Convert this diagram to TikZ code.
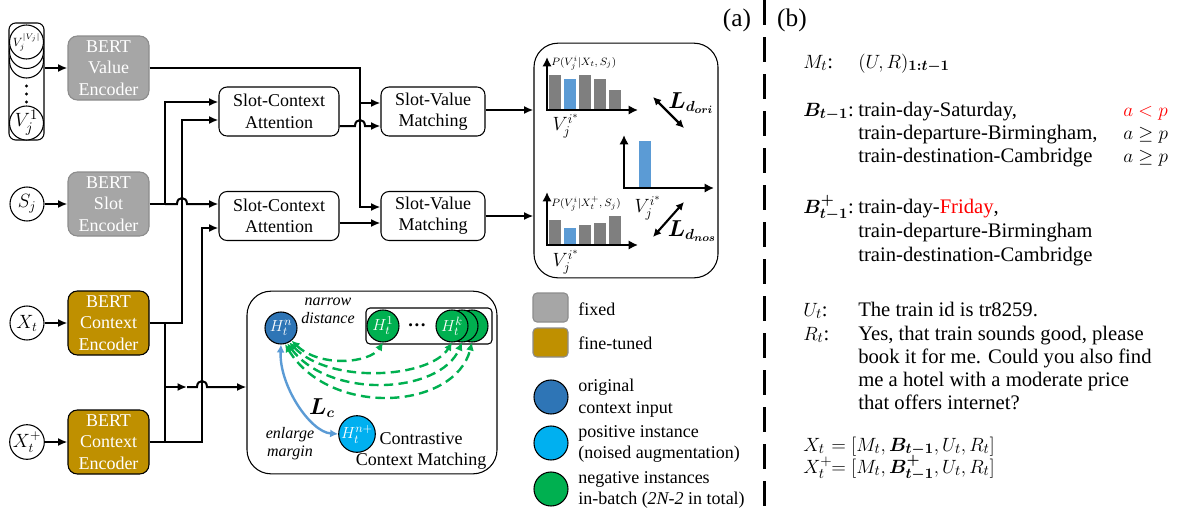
\documentclass[tikz,border=0pt]{standalone}
\usepackage{amsmath,bm}
\usepackage{fontspec}
\setmainfont{Liberation Serif}
\usetikzlibrary{arrows.meta,calc}
\definecolor{fixgray}{HTML}{A6A6A6}
\definecolor{fixborder}{HTML}{8C8C8C}
\definecolor{gold}{HTML}{BF9000}
\definecolor{dblue}{HTML}{2E75B6}
\definecolor{lblue}{HTML}{00B0F0}
\definecolor{ngreen}{HTML}{00B050}
\definecolor{bargray}{HTML}{7F7F7F}
\definecolor{barblue}{HTML}{5B9BD5}
\definecolor{myred}{HTML}{FF0000}
\newcommand{\Bplus}{\bm{B}^{\bm{+}}_{\bm{t-1}}}
\begin{document}
\begin{tikzpicture}[x=0.75pt,y=-0.75pt,
 wire/.style={line width=1.5pt},
 arr/.style={line width=1.5pt,-{Latex[length=7pt,width=6pt]}},
 fs/.style={font=\fontsize{13.5}{16}\selectfont},
 encbox/.style={rounded corners=7pt, minimum width=60.75pt, minimum height=48pt, align=center, text=white, fs, line width=0.8pt, inner sep=1pt},
 fixedbox/.style={encbox, fill=fixgray, draw=fixborder},
 tunedbox/.style={encbox, fill=gold, draw=black},
 modbox/.style={draw, rounded corners=6pt, line width=0.8pt, align=center, fs, minimum height=36.75pt},
 incirc/.style={circle, draw, fill=white, line width=0.8pt, minimum size=25.5pt, inner sep=0pt, font=\fontsize{14}{15}\selectfont},
 hcirc/.style={circle, draw, line width=0.8pt, minimum size=24pt, inner sep=0pt, text=white, font=\fontsize{13}{14}\selectfont},
 axis/.style={line width=2.2pt, -{Latex[length=7pt,width=7pt]}},
 dbl/.style={line width=1.6pt, {Latex[length=6pt,width=6pt]}-{Latex[length=6pt,width=6pt]}},
 gdash/.style={ngreen, line width=1.8pt, dash pattern=on 7pt off 4pt, {Latex[length=6pt,width=6pt]}-{Latex[length=6pt,width=6pt]}},
 legtext/.style={fs, anchor=west, align=left, inner sep=0pt},
 rs/.style={font=\fontsize{15.5}{18}\selectfont, anchor=base west, inner sep=0pt},
 smalllab/.style={font=\fontsize{8.5}{9}\selectfont, anchor=west, inner sep=0pt},
 vlab/.style={font=\fontsize{14}{15}\selectfont, inner sep=0pt},
 itl/.style={font=\fontsize{12}{13.5}\selectfont\itshape, align=center, inner sep=0pt}
]
\useasboundingbox (0,0) rectangle (1178,515);

% ---------- value stack ----------
\node[draw, rounded corners=5pt, line width=0.8pt, minimum width=26.25pt, minimum height=87.75pt] (vstack) at (26.5,81.5) {};
\node[incirc] (vc3) at (26.5,61) {};
\node[incirc] (vc2) at (26.5,51.5) {};
\node[incirc, font=\fontsize{9}{10}\selectfont] (vtop) at (26.5,42) {$V_j^{|V_j|}$};
\fill (26.5,86) circle (1.3pt);
\fill (26.5,94) circle (1.3pt);
\fill (26.5,102) circle (1.3pt);
\node[incirc, font=\fontsize{15}{16}\selectfont] (vone) at (26.5,123) {$V_j^1$};

% ---------- encoders ----------
\node[fixedbox] (val) at (108.5,68) {BERT\\Value\\Encoder};
\node[fixedbox] (slot) at (108.5,204) {BERT\\Slot\\Encoder};
\node[tunedbox] (ctx1) at (108.5,323) {BERT\\Context\\Encoder};
\node[tunedbox] (ctx2) at (108.5,442) {BERT\\Context\\Encoder};

\node[incirc] (sj) at (27,204) {$S_j$};
\node[incirc] (xt) at (27,323) {$X_t$};
\node[incirc] (xtp) at (27,442) {$X_t^+$};

\draw[arr] (vstack.east |- val.west) -- (val.west);
\draw[arr] (sj) -- (slot);
\draw[arr] (xt) -- (ctx1);
\draw[arr] (xtp) -- (ctx2);

% ---------- modules ----------
\node[modbox, minimum width=90pt] (sca1) at (279,111.5) {Slot-Context\\Attention};
\node[modbox, minimum width=90pt] (sca2) at (279,216) {Slot-Context\\Attention};
\node[modbox, minimum width=78pt] (svm1) at (433,111.5) {Slot-Value\\Matching};
\node[modbox, minimum width=78pt] (svm2) at (433,216) {Slot-Value\\Matching};

\node[draw, rounded corners=18pt, line width=0.8pt, minimum width=138pt, minimum height=176pt] (dist) at (626,160.5) {};
\node[draw, rounded corners=18pt, line width=0.8pt, minimum width=187.5pt, minimum height=137pt] (cbox) at (372,382.5) {};

% ---------- wires ----------
\coordinate (jval) at (360,68);
\draw[arr] (val.east) -- (jval) |- ($(svm2.west)+(0,-9)$);
\coordinate (v1in) at ($(svm1.west)+(0,-8.5)$);
\draw[arr] (v1in -| jval) -- (v1in);

\coordinate (jslot) at (165,204);
\draw[wire] (slot.east) -- (jslot);
\draw[arr] (jslot) -- (177,204) .. controls (177,196) and (187,196) .. (187,204) -- (sca2.west |- jslot);
\draw[arr] (jslot) |- ($(sca1.west)+(0,-9.5)$);

\coordinate (jx) at (182,323);
\draw[arr] (ctx1.east) -- (jx) |- ($(sca1.west)+(0,8.5)$);
\coordinate (jxp) at (202,442);
\draw[arr] (ctx2.east) -- (jxp) |- ($(sca2.west)+(0,12)$);
\coordinate (jxc) at (165,323);
\draw[wire] (jxc) -- (jxc |- jxp);
\coordinate (jc) at (165,387);
\coordinate (jcm) at (187,387);
\draw[arr] (jc) -- (jcm);
\draw[arr] (jcm) -- (197,387) .. controls (197,379) and (207,379) .. (207,387) -- (cbox.west |- jc);

\coordinate (s1o) at ($(sca1.east)+(0,14.5)$);
\draw[arr] (s1o) -- (355,126) .. controls (355,118) and (365,118) .. (365,126) -- (svm1.west |- s1o);
\draw[arr] ($(sca2.east)+(0,7)$) -- ($(svm2.west)+(0,7)$);
\draw[arr] ($(svm1.east)+(0,-1.5)$) -- ($(svm1.east -| dist.west)+(0,-1.5)$);
\draw[arr] (svm2.east) -- (svm2.east -| dist.west);

% ---------- charts ----------
\fill[bargray] (549,110) rectangle (561,75);
\fill[barblue] (564,110) rectangle (576,79);
\fill[bargray] (579,110) rectangle (591,75);
\fill[bargray] (594,110) rectangle (606,79);
\fill[bargray] (609,110) rectangle (621,90);
\draw[axis] (547,110) -- (547,57);
\draw[axis] (546,110) -- (638,110);
\node[smalllab] (p1) at (551,63) {$P(V_j^i|X_t,S_j)$};
\node[vlab] (vs1) at (566,126) {$V_j^{i^*}$};

\fill[barblue] (639,188) rectangle (651,141);
\draw[axis] (624,188) -- (624,135);
\draw[axis] (623,188) -- (714,188);
\node[vlab] (vs2) at (648,208) {$V_j^{i^*}$};

\fill[bargray] (549,245) rectangle (561,220);
\fill[barblue] (564,245) rectangle (576,228);
\fill[bargray] (579,245) rectangle (591,225);
\fill[bargray] (594,245) rectangle (606,223);
\fill[bargray] (609,245) rectangle (621,216);
\draw[axis] (547,245) -- (547,192);
\draw[axis] (546,245) -- (638,245);
\node[smalllab] (p2) at (551,204) {$P(V_j^i|X_t^+,S_j)$};
\node[vlab] (vs3) at (566,262) {$V_j^{i^*}$};

\coordinate (do1) at (653,97);
\coordinate (do2) at (684,128);
\draw[dbl] (do1) -- (do2);
\coordinate (dn1) at (684,202);
\coordinate (dn2) at (653,237);
\draw[dbl] (dn1) -- (dn2);
\node[font=\fontsize{16}{17}\selectfont, inner sep=0pt] (ldori) at (691,103) {$\bm{L_{d_{ori}}}$};
\node[font=\fontsize{16}{17}\selectfont, inner sep=0pt] (ldnos) at (692,231) {$\bm{L_{d_{nos}}}$};

% ---------- contrastive ----------
\node[draw, rounded corners=3pt, line width=0.8pt, minimum width=94.5pt, minimum height=27pt] (negbox) at (429,326) {};
\node[hcirc, fill=ngreen] (hk3) at (472,326) {};
\node[hcirc, fill=ngreen] (hk2) at (462,326) {};
\node[hcirc, fill=ngreen] (hk1) at (452,326) {$H_t^k$};
\node[hcirc, fill=ngreen] (h1) at (383,326) {$H_t^1$};
\node[font=\fontsize{14}{15}\selectfont\bfseries, inner sep=0pt] (dots) at (417,325) {\textbf{…}};
\node[hcirc, fill=dblue] (hn) at (281,328) {$H_t^n$};
\node[hcirc, fill=lblue] (hnp) at (357,434) {$H_t^{n+}$};

\draw[gdash] (hn.-50) .. controls (320,368) and (370,363) .. (h1.south);
\draw[gdash] (hn.-60) .. controls (330,385) and (430,378) .. (hk1.south);
\draw[gdash] (hn.-68) .. controls (330,400) and (440,394) .. (hk2.south);
\draw[gdash] (hn.-76) .. controls (330,418) and (455,410) .. (hk3.south);
\draw[barblue, line width=1.8pt, {Latex[length=6pt,width=6pt]}-{Latex[length=6pt,width=6pt]}] (hn.south) .. controls (279,385) and (310,432) .. (hnp.west);

\node[itl] (narrow) at (328,311) {narrow\\distance};
\node[itl] (enlarge) at (290,444) {enlarge\\margin};
\node[font=\fontsize{16}{17}\selectfont, inner sep=0pt] (lc) at (322,408) {$\bm{L_c}$};
\node[fs, align=center, inner sep=0pt] (ccm) at (421,451) {Contrastive\\Context Matching};

% ---------- legend ----------
\node[rounded corners=3pt, fill=fixgray, draw=fixborder, line width=0.8pt, minimum width=26.25pt, minimum height=21.75pt] (lg1) at (550.5,307.5) {};
\node[legtext] (lt1) at (578,309) {fixed};
\node[rounded corners=3pt, fill=gold, draw=fixborder, line width=0.8pt, minimum width=26.25pt, minimum height=21.75pt] (lg2) at (550.5,342.5) {};
\node[legtext] (lt2) at (578,343) {fine-tuned};
\node[circle, draw, fill=dblue, line width=0.8pt, minimum size=25.5pt, inner sep=0pt] (lg3) at (551,397) {};
\node[legtext] (lt3) at (578,398) {original\\context input};
\node[circle, draw, fill=lblue, line width=0.8pt, minimum size=25.5pt, inner sep=0pt] (lg4) at (551,443) {};
\node[legtext] (lt4) at (578,444) {positive instance\\(noised augmentation)};
\node[circle, draw, fill=ngreen, line width=0.8pt, minimum size=25.5pt, inner sep=0pt] (lg5) at (551,489) {};
\node[legtext] (lt5) at (578,490) {negative instances\\in-batch (\textit{2N-2} in total)};

% ---------- separator ----------
\node[font=\fontsize{19}{20}\selectfont, inner sep=0pt] (la) at (737,20) {(a)};
\node[font=\fontsize{19}{20}\selectfont, inner sep=0pt] (lb) at (792,20) {(b)};
\coordinate (sepa) at (764,0);
\coordinate (sepb) at (764,515);
\draw[line width=2.25pt, dash pattern=on 18.75pt off 9pt] (sepa) -- (sepb);

% ---------- right panel ----------
\node[rs] (mlab) at (803,68) {$M_t$:};
\node[rs] (mval) at (858,68) {$(U,R)_{\bm{1:t-1}}$};
\node[rs] (blab) at (803,116) {$\bm{B}_{\bm{t-1}}$:};
\node[rs] (b1) at (858,116) {train-day-Saturday,};
\node[rs] (b2) at (858,139) {train-departure-Birmingham,};
\node[rs] (b3) at (858,162) {train-destination-Cambridge};
\node[rs, text=myred] (c1) at (1123,116) {$a<p$};
\node[rs] (c2) at (1123,139) {$a\geq p$};
\node[rs] (c3) at (1123,162) {$a\geq p$};
\node[rs] (bplab) at (803,213) {$\Bplus$:};
\node[rs] (bp1) at (858,213) {train-day-{\color{myred}Friday},};
\node[rs] (bp2) at (858,237) {train-departure-Birmingham};
\node[rs] (bp3) at (858,261) {train-destination-Cambridge};
\node[rs] (ulab) at (803,316) {$U_t$:};
\node[rs] (uval) at (858,316) {The train id is tr8259.};
\node[rs] (rlab) at (803,340) {$R_t$:};
\node[rs] (r1) at (858,340) {Yes, that train sounds good, please};
\node[rs] (r2) at (858,363) {book it for me. Could you also find};
\node[rs] (r3) at (858,386) {me a hotel with a moderate price};
\node[rs] (r4) at (858,409) {that offers internet?};
\node[rs] (x1l) at (803,451) {$X_t$};
\node[rs] (x1r) at (831,451) {$=[M_t,\bm{B}_{\bm{t-1}},U_t,R_t]$};
\node[rs] (x2l) at (803,473) {$X_t^+$};
\node[rs] (x2r) at (831,473) {$=[M_t,\Bplus,U_t,R_t]$};
\end{tikzpicture}
\end{document}
